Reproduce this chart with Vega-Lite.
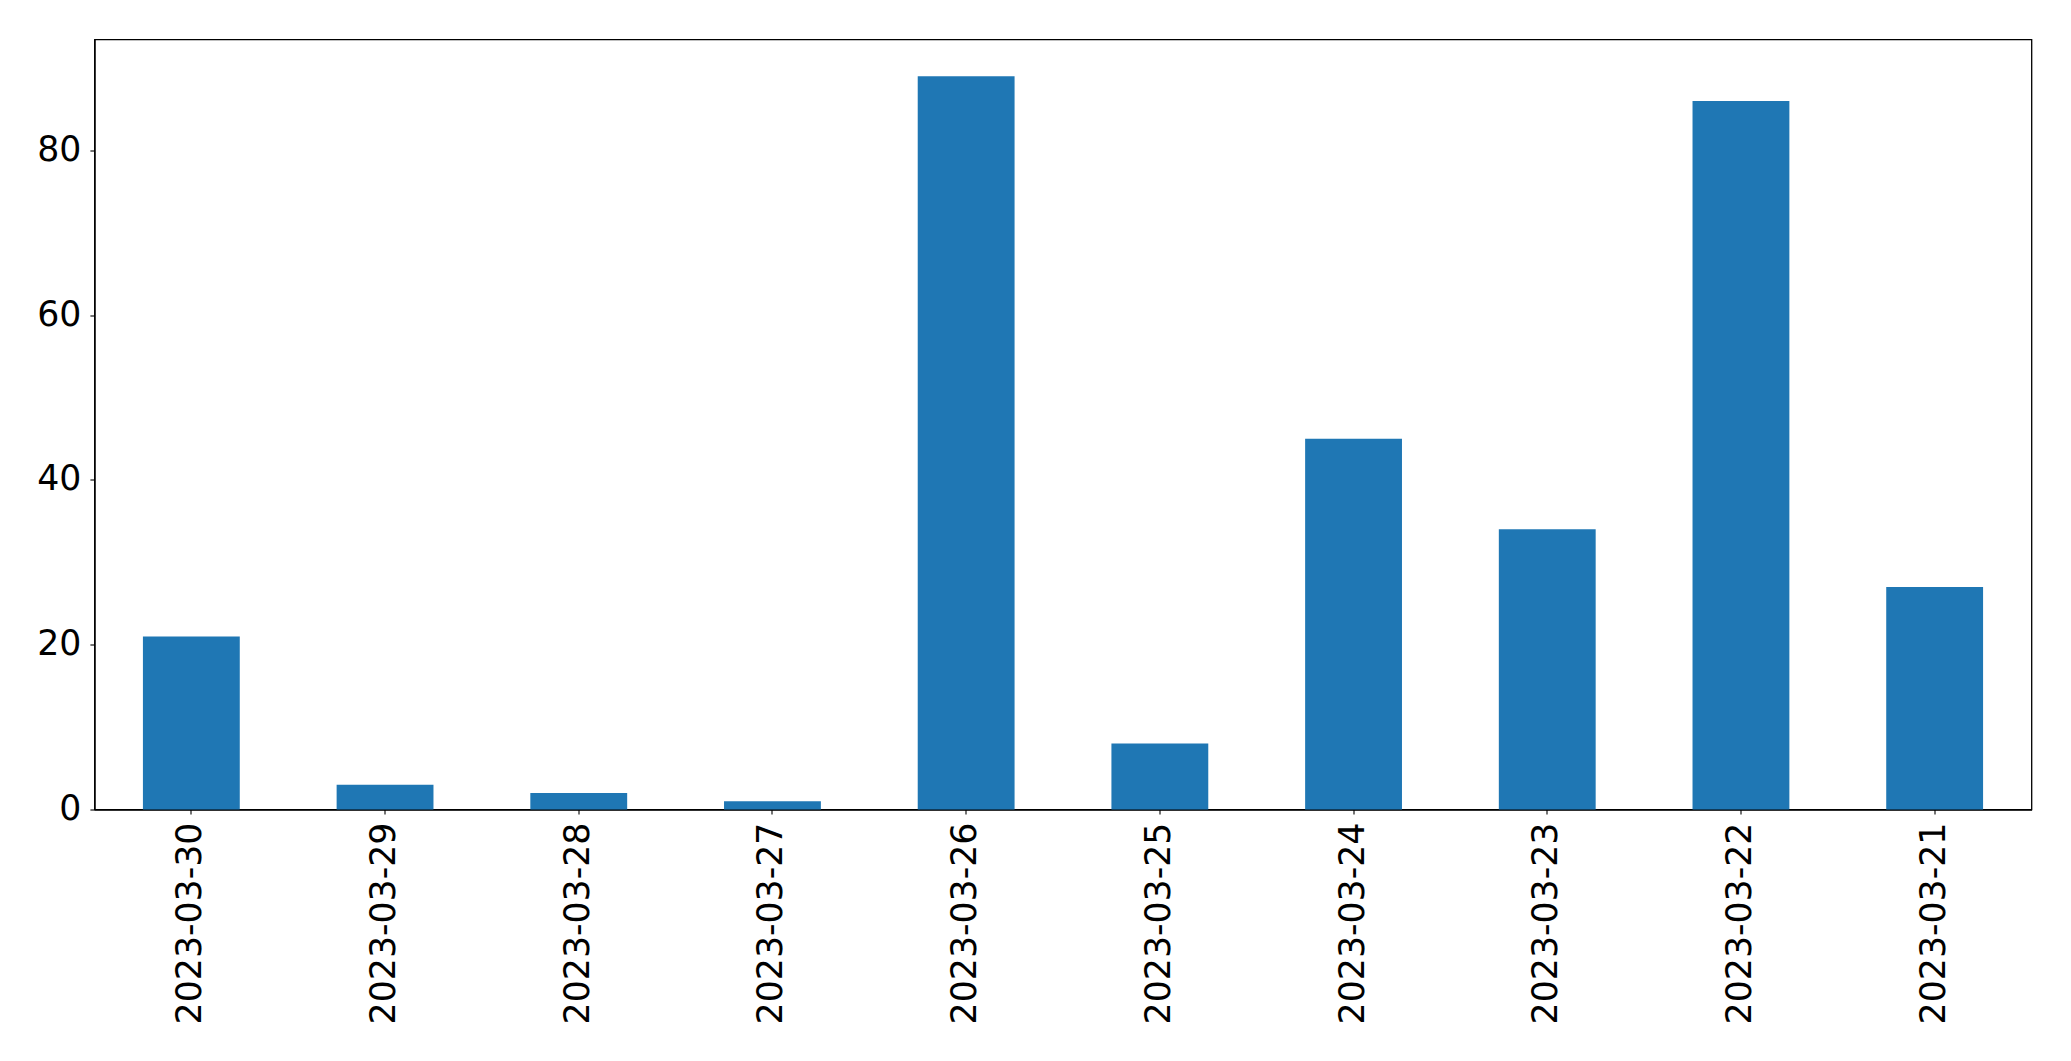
{
  "$schema": "https://vega.github.io/schema/vega-lite/v6.json",
  "autosize": "none",
  "width": 1937,
  "height": 770,
  "padding": {"left": 94.5, "top": 39.5, "right": 39.5, "bottom": 251.5},
  "background": "white",
  "data": {"values": [
    {"date": "2023-03-30", "count": 21},
    {"date": "2023-03-29", "count": 3},
    {"date": "2023-03-28", "count": 2},
    {"date": "2023-03-27", "count": 1},
    {"date": "2023-03-26", "count": 89},
    {"date": "2023-03-25", "count": 8},
    {"date": "2023-03-24", "count": 45},
    {"date": "2023-03-23", "count": 34},
    {"date": "2023-03-22", "count": 86},
    {"date": "2023-03-21", "count": 27}
  ]},
  "mark": {"type": "bar", "color": "#1f77b4"},
  "encoding": {
    "x": {
      "field": "date", "type": "nominal", "sort": null,
      "scale": {"paddingInner": 0.5, "paddingOuter": 0.25},
      "axis": {
        "title": null, "labelAngle": -90, "labelAlign": "right", "labelBaseline": "middle",
        "labelFont": "DejaVu Sans", "labelFontSize": 34.72, "labelColor": "black", "labelLimit": 0,
        "labelPadding": 8, "tickSize": 4.6, "tickColor": "black", "tickWidth": 1.1,
        "domainColor": "black", "domainWidth": 1.3, "grid": false
      }
    },
    "y": {
      "field": "count", "type": "quantitative",
      "scale": {"domain": [0, 93.45], "nice": false, "zero": true},
      "axis": {
        "title": null, "values": [0, 20, 40, 60, 80],
        "labelFont": "DejaVu Sans", "labelFontSize": 34.72, "labelColor": "black",
        "labelPadding": 9, "tickSize": 4.6, "tickColor": "black", "tickWidth": 1.1,
        "domainColor": "black", "domainWidth": 1.3, "grid": false
      }
    }
  },
  "config": {
    "view": {"stroke": "black", "strokeWidth": 1.3},
    "axis": {"labelFlush": false, "labelOverlap": false}
  }
}
